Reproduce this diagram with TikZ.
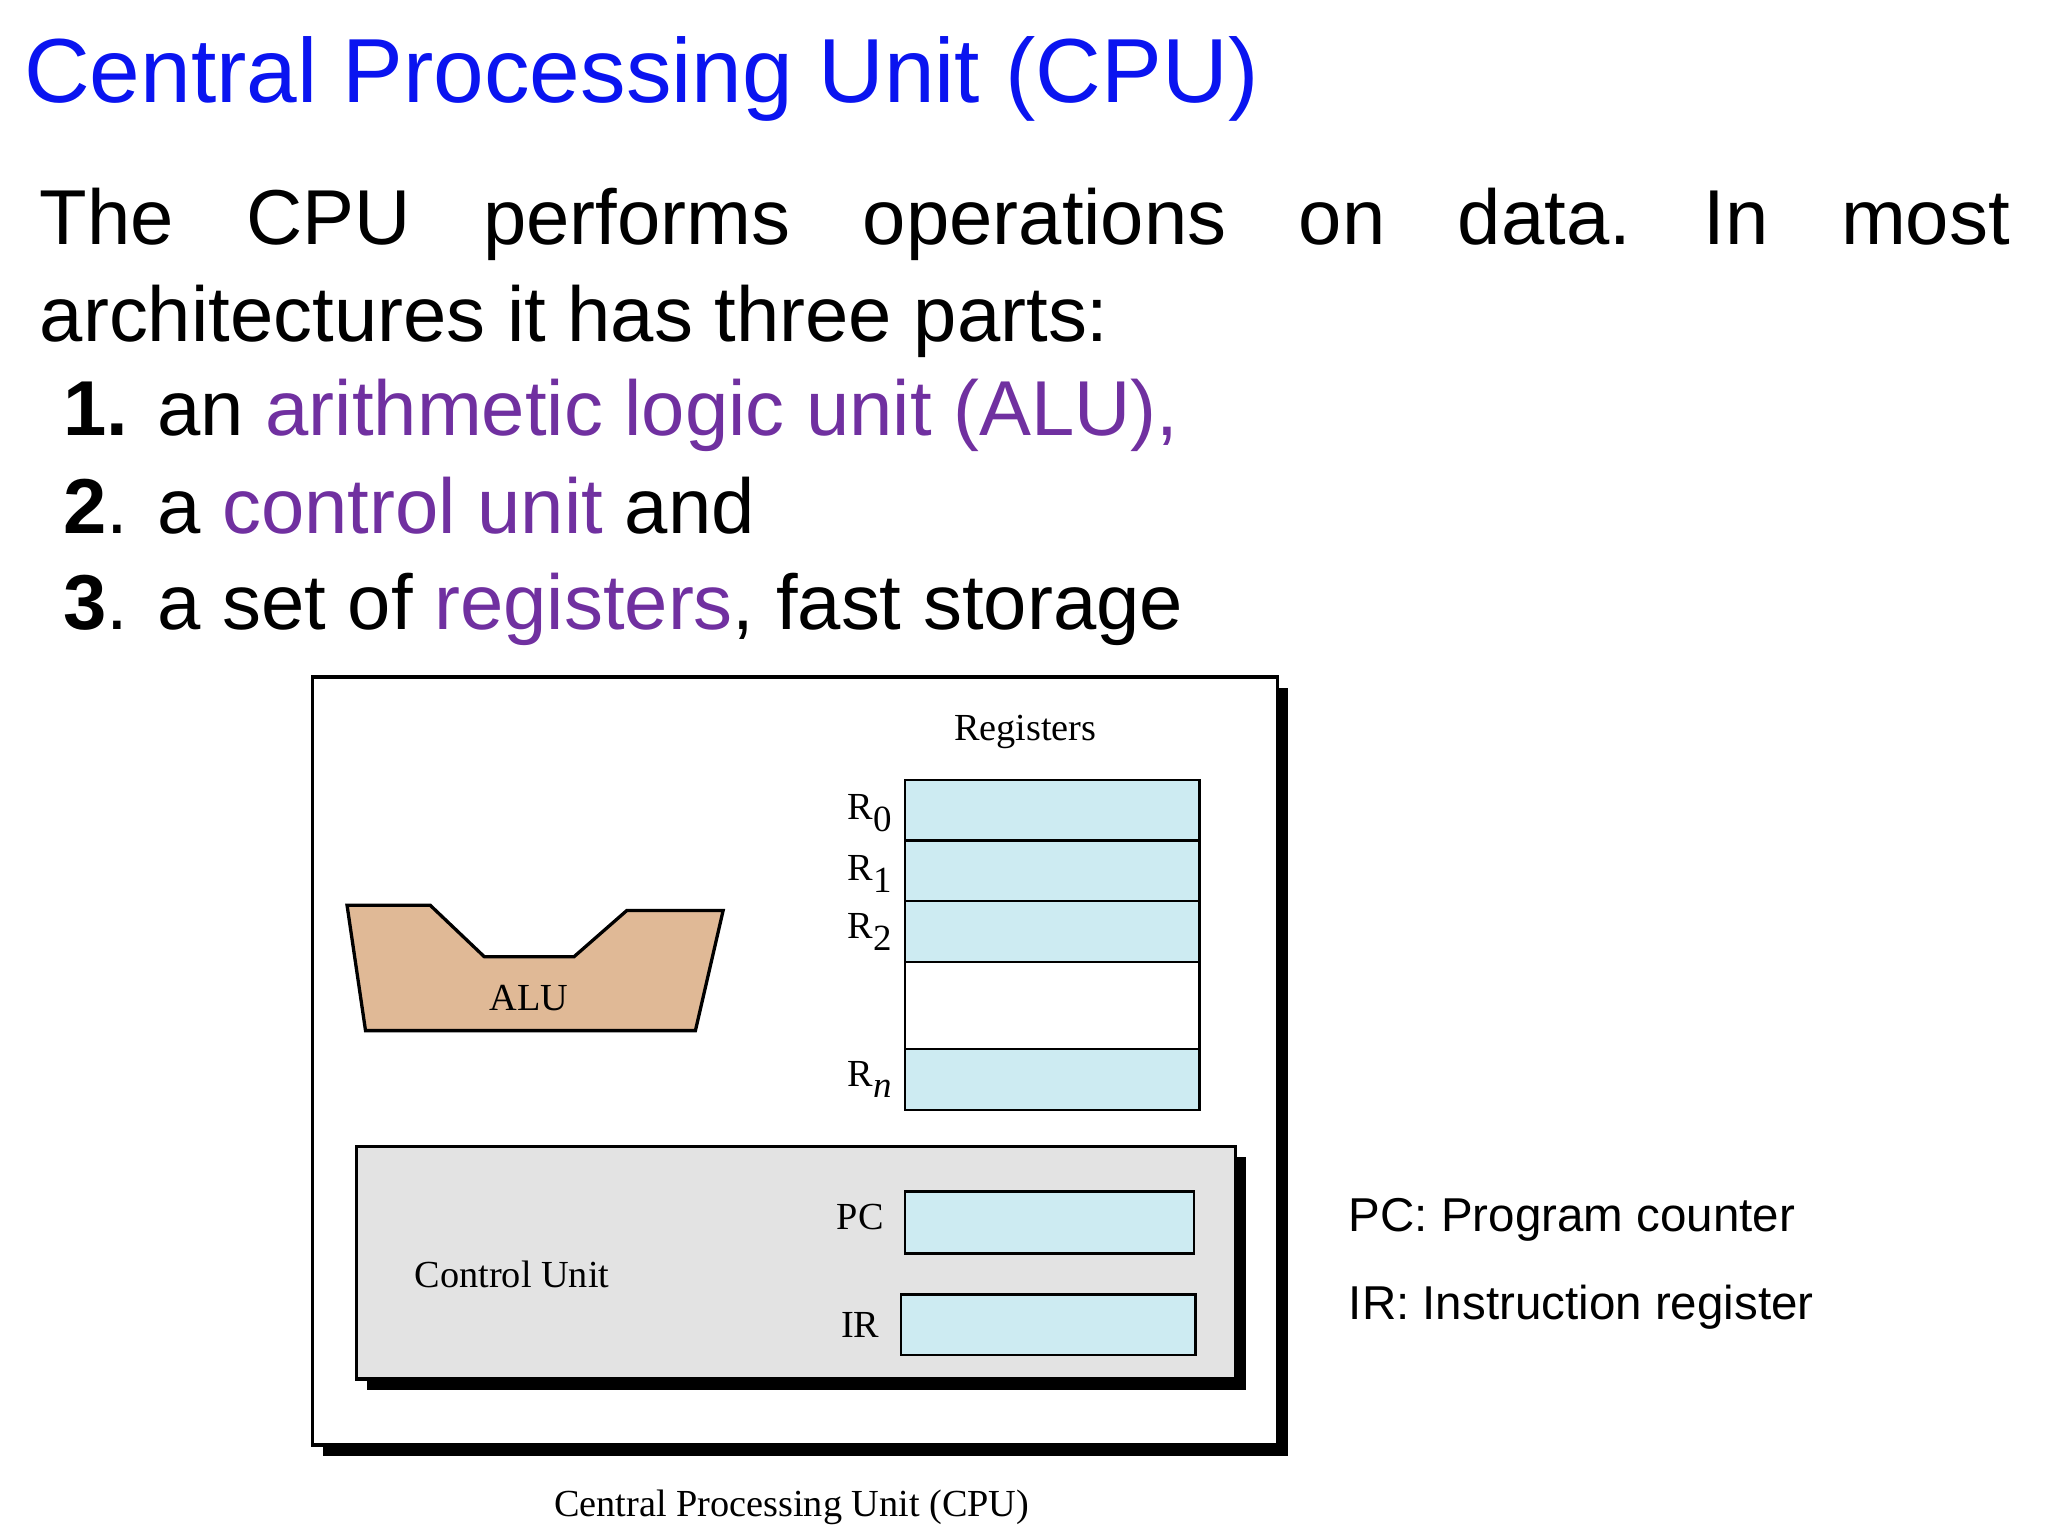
\documentclass[tikz,border=0pt]{standalone}
\usepackage{fontspec}
\setmainfont{Liberation Sans}
\newfontfamily\tms{Liberation Serif}
\definecolor{ttl}{HTML}{0A14F0}
\definecolor{purp}{HTML}{7030A0}
\definecolor{regc}{HTML}{CDEBF2}
\definecolor{alu}{HTML}{E0B996}
\definecolor{cug}{HTML}{E3E3E3}
\newcommand{\rsub}[1]{\raisebox{-9pt}{\fontsize{28}{30}\selectfont #1}}
\begin{document}
\begin{tikzpicture}[x=1pt,y=-1pt,
  reg/.style={draw,line width=1.8pt,fill=regc},
  dt/.style={font=\tms\fontsize{29}{34}\selectfont,inner sep=0pt},
  big/.style={font=\fontsize{59}{70}\selectfont,anchor=base west,inner sep=0pt}]
\useasboundingbox (0,0) rectangle (1552,1164);
\node[anchor=base west,inner sep=0pt,text=ttl,font=\fontsize{69}{80}\selectfont] (title) at (18,78) {Central Processing Unit (CPU)};
\node[big] (l1) at (30,185) {\hbox to 1493pt{The\hfill CPU\hfill performs\hfill operations\hfill on\hfill data.\hfill In\hfill most}};
\node[big] (l2) at (30,259) {architectures it has three parts:};
\node[big] (i1) at (48,330) {\textbf{1.} an \textcolor{purp}{arithmetic logic unit (ALU),}};
\node[big] (i2) at (48,404) {\textbf{2}. a \textcolor{purp}{control unit} and};
\node[big] (i3) at (48,477) {\textbf{3}. a set of \textcolor{purp}{registers}, fast storage};
% outer box
\fill (245,521) rectangle (976,1103);
\draw[line width=2.5pt,fill=white] (237,513) rectangle (968,1095);
\node[dt] (regl) at (777,555) {Registers};
\draw[reg] (686,591) rectangle (909,637);
\draw[reg] (686,637) rectangle (909,683);
\draw[reg] (686,683) rectangle (909,729);
\draw[line width=1.8pt,fill=white] (686,729) rectangle (909,795);
\draw[reg] (686,795) rectangle (909,841);
\node[dt] (lr0) at (659,616) {R\rsub{0}};
\node[dt] (lr1) at (659,662) {R\rsub{1}};
\node[dt] (lr2) at (659,706) {R\rsub{2}};
\node[dt] (lrn) at (659,818) {R\rsub{\itshape n}};
\draw[line width=2.5pt,fill=alu] (263,686) -- (326,686) -- (367,725) -- (435,725) -- (475,690) -- (548,690) -- (527,781) -- (277,781) -- cycle;
\node[dt] (alut) at (401,756) {ALU};
% control unit
\fill (278,877) rectangle (944,1053);
\draw[line width=2.5pt,fill=cug] (270,869) rectangle (936,1045);
\node[dt] (cut) at (388,966) {Control Unit};
\node[dt] (pcl) at (652,922) {PC};
\draw[reg] (686,903) rectangle (905,950);
\node[dt] (irl) at (652,1004) {IR};
\draw[reg] (683,981) rectangle (906,1027);
\node[dt] (cap) at (600,1142) {Central Processing Unit (CPU)};
\node[anchor=base west,inner sep=0pt,font=\fontsize{36}{42}\selectfont] (n1) at (1022,933) {PC: Program counter};
\node[anchor=base west,inner sep=0pt,font=\fontsize{36}{42}\selectfont] (n2) at (1022,1000) {IR: Instruction register};
\end{tikzpicture}
\end{document}
